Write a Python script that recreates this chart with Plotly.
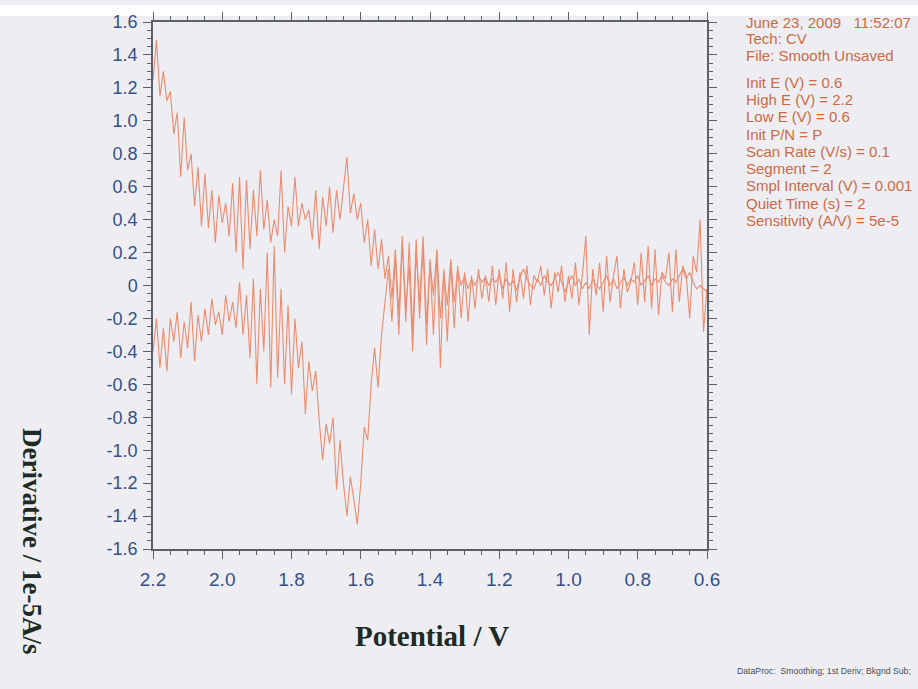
import numpy as np
import plotly.graph_objects as go

# Potential grid (V), instrument sampled from 2.20 down to 0.60
potential = np.round(np.linspace(2.20, 0.60, 161), 2)

# Upper branch (derivative, 1e-5 A/s), 2.20 -> 0.60
upper_branch = [
    1.25, 1.49, 1.15, 1.30, 1.12, 1.18, 0.92, 1.05, 0.66, 1.02,
    0.70, 0.80, 0.48, 0.72, 0.36, 0.68, 0.35, 0.58, 0.26, 0.55,
    0.38, 0.50, 0.30, 0.62, 0.20, 0.66, 0.10, 0.64, 0.22, 0.58,
    0.30, 0.70, 0.34, 0.52, 0.26, 0.40, 0.30, 0.70, 0.20, 0.48,
    0.36, 0.66, 0.36, 0.50, 0.40, 0.46, 0.28, 0.58, 0.22, 0.54,
    0.36, 0.60, 0.32, 0.58, 0.40, 0.60, 0.78, 0.44, 0.56, 0.40,
    0.50, 0.26, 0.40, 0.12, 0.34, 0.10, 0.28, 0.04, 0.18, -0.08,
    0.22, -0.18, 0.30, -0.22, 0.26, -0.30, 0.28, -0.20, 0.24, -0.36,
    0.16, -0.30, 0.20, -0.50, 0.10, -0.34, 0.14, -0.26, 0.12, -0.20,
    0.08, -0.22, 0.06, -0.14, 0.10, -0.08, 0.06, -0.10, 0.12, -0.12,
    0.10, -0.08, 0.14, -0.16, 0.10, -0.10, 0.08, -0.08, 0.12, -0.12,
    0.06, 0.02, 0.12, -0.06, 0.10, -0.14, 0.08, -0.04, 0.12, -0.10,
    0.06, -0.08, 0.14, -0.12, 0.06, 0.30, -0.30, 0.10, -0.06, 0.14,
    -0.16, 0.18, -0.10, 0.06, 0.18, -0.14, 0.10, -0.04, 0.02, 0.14,
    -0.12, 0.20, -0.10, 0.24, -0.14, 0.22, -0.18, 0.08, 0.04, 0.20,
    -0.16, 0.22, -0.10, 0.12, 0.06, -0.20, 0.18, 0.08, 0.40, -0.28,
    -0.02,
]

# Lower branch, 2.20 -> 0.60
lower_branch = [
    -0.40, -0.20, -0.50, -0.26, -0.52, -0.20, -0.34, -0.16, -0.44, -0.22,
    -0.38, -0.10, -0.46, -0.18, -0.34, -0.14, -0.30, -0.08, -0.24, -0.16,
    -0.30, -0.06, -0.22, -0.10, -0.26, 0.02, -0.30, -0.06, -0.44, 0.04,
    -0.60, -0.02, -0.40, 0.20, -0.62, 0.24, -0.56, -0.02, -0.60, -0.12,
    -0.66, -0.20, -0.50, -0.34, -0.78, -0.46, -0.64, -0.52, -0.82, -1.06,
    -0.84, -0.96, -0.80, -1.24, -0.94, -1.20, -1.40, -1.16, -1.30, -1.45,
    -1.20, -0.86, -0.94, -0.60, -0.38, -0.62, -0.30, -0.08, 0.10, -0.22,
    0.18, -0.30, 0.26, -0.14, 0.12, -0.40, 0.20, -0.10, 0.30, -0.24,
    0.14, -0.06, 0.22, -0.20, 0.08, -0.12, 0.16, -0.10, 0.10, 0.00,
    0.06, -0.02, 0.04, 0.00, 0.06, 0.02, 0.05, 0.00, 0.04, 0.02,
    0.06, -0.02, 0.04, 0.00, 0.03, -0.03, 0.05, 0.10, 0.04, 0.00,
    -0.02, 0.04, 0.00, 0.06, 0.02, 0.00, 0.04, 0.08, 0.02, -0.04,
    0.02, 0.06, 0.00, 0.04, -0.02, 0.02, -0.02, 0.04, 0.00, -0.02,
    0.02, 0.06, 0.00, 0.04, -0.02, 0.02, 0.05, 0.00, 0.04, 0.02,
    0.06, 0.00, 0.03, 0.06, 0.00, 0.04, 0.02, 0.06, 0.02, 0.00,
    0.04, 0.02, 0.06, 0.10, 0.04, 0.08, 0.02, -0.02, 0.00, -0.02,
    -0.04,
]

x_tick_vals = [2.2, 2.0, 1.8, 1.6, 1.4, 1.2, 1.0, 0.8, 0.6]
x_tick_text = ["2.2", "2.0", "1.8", "1.6", "1.4", "1.2", "1.0", "0.8", "0.6"]
y_tick_vals = [1.6, 1.4, 1.2, 1.0, 0.8, 0.6, 0.4, 0.2, 0.0, -0.2, -0.4, -0.6,
               -0.8, -1.0, -1.2, -1.4, -1.6]
y_tick_text = ["1.6", "1.4", "1.2", "1.0", "0.8", "0.6", "0.4", "0.2", "0", "-0.2",
               "-0.4", "-0.6", "-0.8", "-1.0", "-1.2", "-1.4", "-1.6"]

info_lines = [
    "June 23, 2009   11:52:07",
    "Tech: CV",
    "File: Smooth Unsaved",
    "Init E (V) = 0.6",
    "High E (V) = 2.2",
    "Low E (V) = 0.6",
    "Init P/N = P",
    "Scan Rate (V/s) = 0.1",
    "Segment = 2",
    "Smpl Interval (V) = 0.001",
    "Quiet Time (s) = 2",
    "Sensitivity (A/V) = 5e-5",
]
info_pixel_y = [15, 32, 49, 76, 93.5, 111, 128.5, 146, 163.5, 181, 198.5, 216]

LINE = "#ea8c70"
AXIS = "#5b606b"
TICKFONT = "Liberation Sans Narrow, Arial Narrow, Liberation Sans, Arial, sans-serif"
BG = "#eeeef2"

fig = go.Figure()
fig.add_trace(go.Scatter(x=potential, y=upper_branch, mode="lines",
                         line=dict(color=LINE, width=1.1), showlegend=False))
fig.add_trace(go.Scatter(x=potential, y=lower_branch, mode="lines",
                         line=dict(color=LINE, width=1.1), showlegend=False))

L, R, T, B = 153, 211, 15, 140
W, H = 918, 689
pw, ph = W - L - R, H - T - B

def px_x(x):
    return (x - L) / pw

def px_y(y):
    return (H - B - y) / ph

axis_common = dict(
    showline=True, linecolor=AXIS, linewidth=1.5, mirror="allticks",
    ticks="outside", ticklen=8, tickwidth=1.2, tickcolor=AXIS,
    showgrid=False, zeroline=False,
    minor=dict(ticks="outside", ticklen=4, tickcolor=AXIS, tickwidth=1, showgrid=False),
)

fig.update_xaxes(range=[2.2, 0.6], tickvals=x_tick_vals, ticktext=x_tick_text,
                 tickfont=dict(family=TICKFONT, size=19, color="#34508a"),
                 ticklabelstandoff=4, **axis_common)
fig.update_xaxes(minor_dtick=0.05, minor_tick0=0.6)
fig.update_yaxes(range=[-1.6, 1.6], tickvals=y_tick_vals, ticktext=y_tick_text,
                 tickfont=dict(family=TICKFONT, size=18, color="#34508a"),
                 ticklabelstandoff=2, **axis_common)
fig.update_yaxes(minor_dtick=0.05, minor_tick0=0)

annotations = []
for line, yp in zip(info_lines, info_pixel_y):
    annotations.append(dict(
        xref="paper", yref="paper", x=px_x(744), y=px_y(yp),
        xanchor="left", yanchor="middle", showarrow=False, text=line,
        font=dict(family="Liberation Sans, Arial, sans-serif", size=15, color="#cb6a42"),
    ))
annotations.append(dict(
    xref="paper", yref="paper", x=px_x(432), y=px_y(637),
    xanchor="center", yanchor="middle", showarrow=False, text="<b>Potential / V</b>",
    font=dict(family="Liberation Serif, Times New Roman, serif", size=29, color="#1e2b25"),
))
annotations.append(dict(
    xref="paper", yref="paper", x=px_x(32), y=px_y(541),
    xanchor="center", yanchor="middle", showarrow=False, textangle=90,
    text="<b>Derivative / 1e-5A/s</b>",
    font=dict(family="Liberation Serif, Times New Roman, serif", size=27, color="#1e2b25"),
))
annotations.append(dict(
    xref="paper", yref="paper", x=px_x(913), y=px_y(673),
    xanchor="right", yanchor="middle", showarrow=False,
    text="DataProc:  Smoothing; 1st Deriv; Bkgnd Sub;",
    font=dict(family="Liberation Sans, Arial, sans-serif", size=8.7, color="#4a4d52"),
))

fig.update_layout(
    width=W, height=H,
    margin=dict(l=L, r=R, t=T, b=B, pad=0),
    paper_bgcolor=BG, plot_bgcolor=BG,
    annotations=annotations,
    shapes=[dict(type="rect", xref="paper", yref="paper",
                 x0=px_x(0), x1=px_x(W), y0=px_y(9), y1=px_y(-2),
                 fillcolor="white", line=dict(width=0), layer="below")],
)

fig.write_html("out.html", config={"displayModeBar": False},
               post_script="document.body.style.margin='0';document.body.style.overflow='hidden';")
